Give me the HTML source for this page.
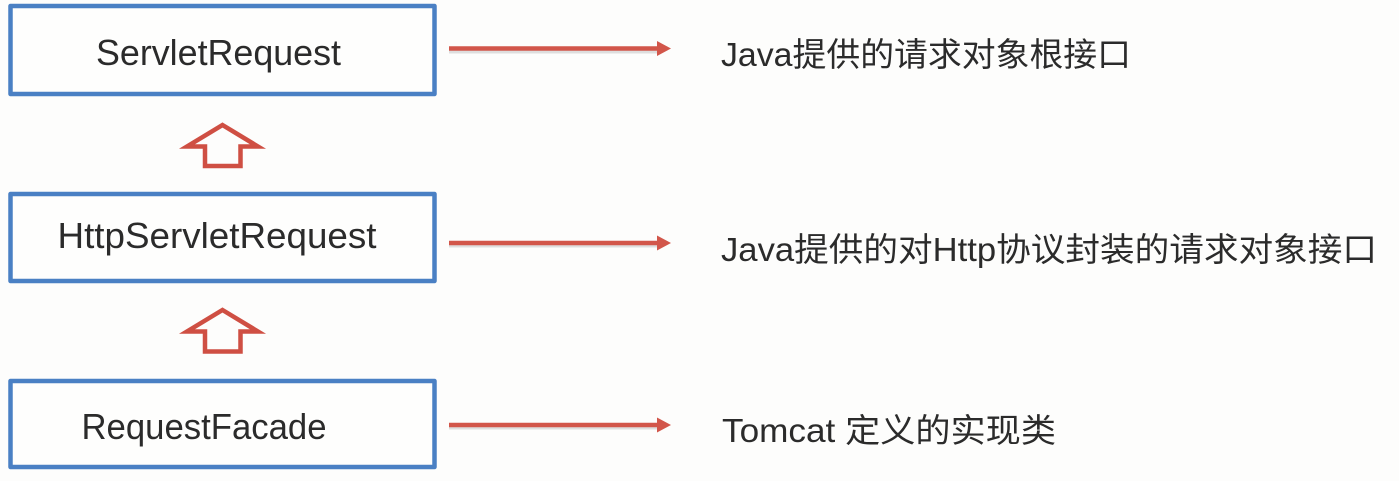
<!DOCTYPE html>
<html><head><meta charset="utf-8"><style>
html,body{margin:0;padding:0;background:#fdfdfc}
svg{display:block}
text{fill:#2b2b2b}
.l{font-family:"Liberation Sans","Noto Sans CJK SC",sans-serif}
</style></head><body>
<svg width="1399" height="481" viewBox="0 0 1399 481" xmlns="http://www.w3.org/2000/svg">
<rect width="1399" height="481" fill="#fdfdfc"/>
<g fill="#fefefd" stroke="#4a80c4" stroke-width="4.500" stroke-linejoin="round">
<rect x="10.5" y="6" width="424" height="88"/>
<rect x="10.500" y="194" width="424" height="87"/>
<rect x="10.500" y="381" width="424" height="86"/>
</g>
<g font-size="36" text-anchor="middle">
<text class="l" x="218.500" y="65" textLength="245" lengthAdjust="spacingAndGlyphs">ServletRequest</text>
<text class="l" x="217" y="248" textLength="319" lengthAdjust="spacingAndGlyphs">HttpServletRequest</text>
<text class="l" x="204" y="439" textLength="245" lengthAdjust="spacingAndGlyphs">RequestFacade</text>
</g>
<g fill="none" stroke="#cf4f43" stroke-width="4.500" stroke-linejoin="miter">
<path d="M222.500 125 L258 146.500 H240.500 V166 H205 V146.500 H187 Z"/>
<path d="M222.500 310 L258 331.500 H240.500 V351.500 H205 V331.500 H187 Z"/>
</g>
<g stroke="#d2d2d2" stroke-width="3" opacity=".7">
<line x1="449" y1="52" x2="660" y2="52"/>
<line x1="449" y1="246" x2="660" y2="246"/>
<line x1="449" y1="428" x2="660" y2="428"/>
</g>
<g stroke="#d2564a" stroke-width="4.500" fill="#d2564a">
<line x1="449" y1="48.500" x2="660" y2="48.500"/>
<line x1="449" y1="243" x2="660" y2="243"/>
<line x1="449" y1="425" x2="660" y2="425"/>
</g>
<g fill="#d2564a">
<path d="M657 41 L671 48.500 L657 56 Z"/>
<path d="M657 235.500 L671 243 L657 250.500 Z"/>
<path d="M657 417.500 L671 425 L657 432.500 Z"/>
</g>
<g font-size="33">
<text class="l" x="721" y="66" textLength="410" lengthAdjust="spacingAndGlyphs">Java提供的请求对象根接口</text>
<text class="l" x="721" y="261" textLength="656" lengthAdjust="spacingAndGlyphs">Java提供的对Http协议封装的请求对象接口</text>
<text class="l" x="722" y="442" textLength="334" lengthAdjust="spacingAndGlyphs">Tomcat 定义的实现类</text>
</g>
</svg>
</body></html>
